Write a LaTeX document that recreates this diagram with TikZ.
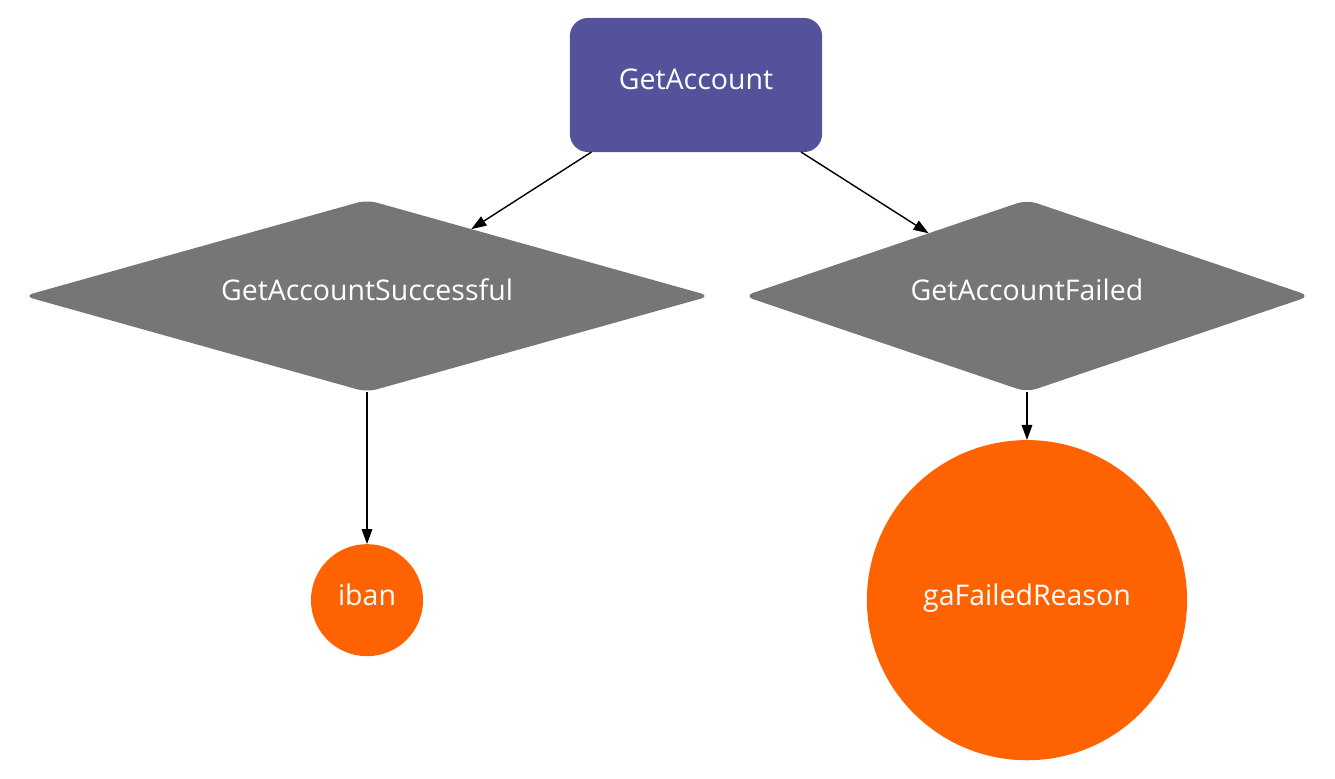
\documentclass[tikz,border=0pt]{standalone}
\usepackage{fontspec}
\setmainfont{Open Sans}
\usepackage{tikz}
\usetikzlibrary{positioning,shapes.geometric,arrows.meta}
\definecolor{ingpurple}{RGB}{84,82,155}
\definecolor{inggrey}{RGB}{118,118,118}
\definecolor{ingorange}{RGB}{255,98,0}

\begin{document}
\begin{tikzpicture}[
    x=0.01cm, y=-0.01cm,
    font=\fontsize{8.1}{10}\selectfont,
    every node/.style={text height=0.2cm, text depth=0.1cm},
    event/.style={rectangle, rounded corners=0.18cm, fill=ingpurple, text=white, minimum width=2.52cm, minimum height=1.34cm, inner sep=0pt, outer sep=0pt},
    outcome/.style={diamond, aspect=3.6, rounded corners=0.1cm, fill=inggrey, text=white, minimum width=6.86cm, minimum height=1.92cm, inner sep=0pt, outer sep=0pt},
    field/.style={circle, fill=ingorange, text=white, inner sep=0pt, outer sep=0pt},
    arrow/.style={-{Triangle[length=4.3pt,width=3pt]}, line width=0.4pt}
  ]
    \useasboundingbox (0,0) rectangle (1335,779);
    \node[event] (ga) at (696,85) {GetAccount};
    \node[outcome] (succ) at (367,296) {GetAccountSuccessful};
    \node[outcome, minimum width=5.66cm] (fail) at (1027,296) {GetAccountFailed};
    \node[field, minimum size=1.12cm, below=1.52cm of succ] (iban) {iban};
    \node[field, minimum size=3.2cm, below=0.48cm of fail] (reason) {gaFailedReason};
    \draw[arrow] (ga) -- (succ);
    \draw[arrow] (ga) -- (fail);
    \draw[arrow] (succ) -- (iban);
    \draw[arrow] (fail) -- (reason);
  \end{tikzpicture}
\end{document}
